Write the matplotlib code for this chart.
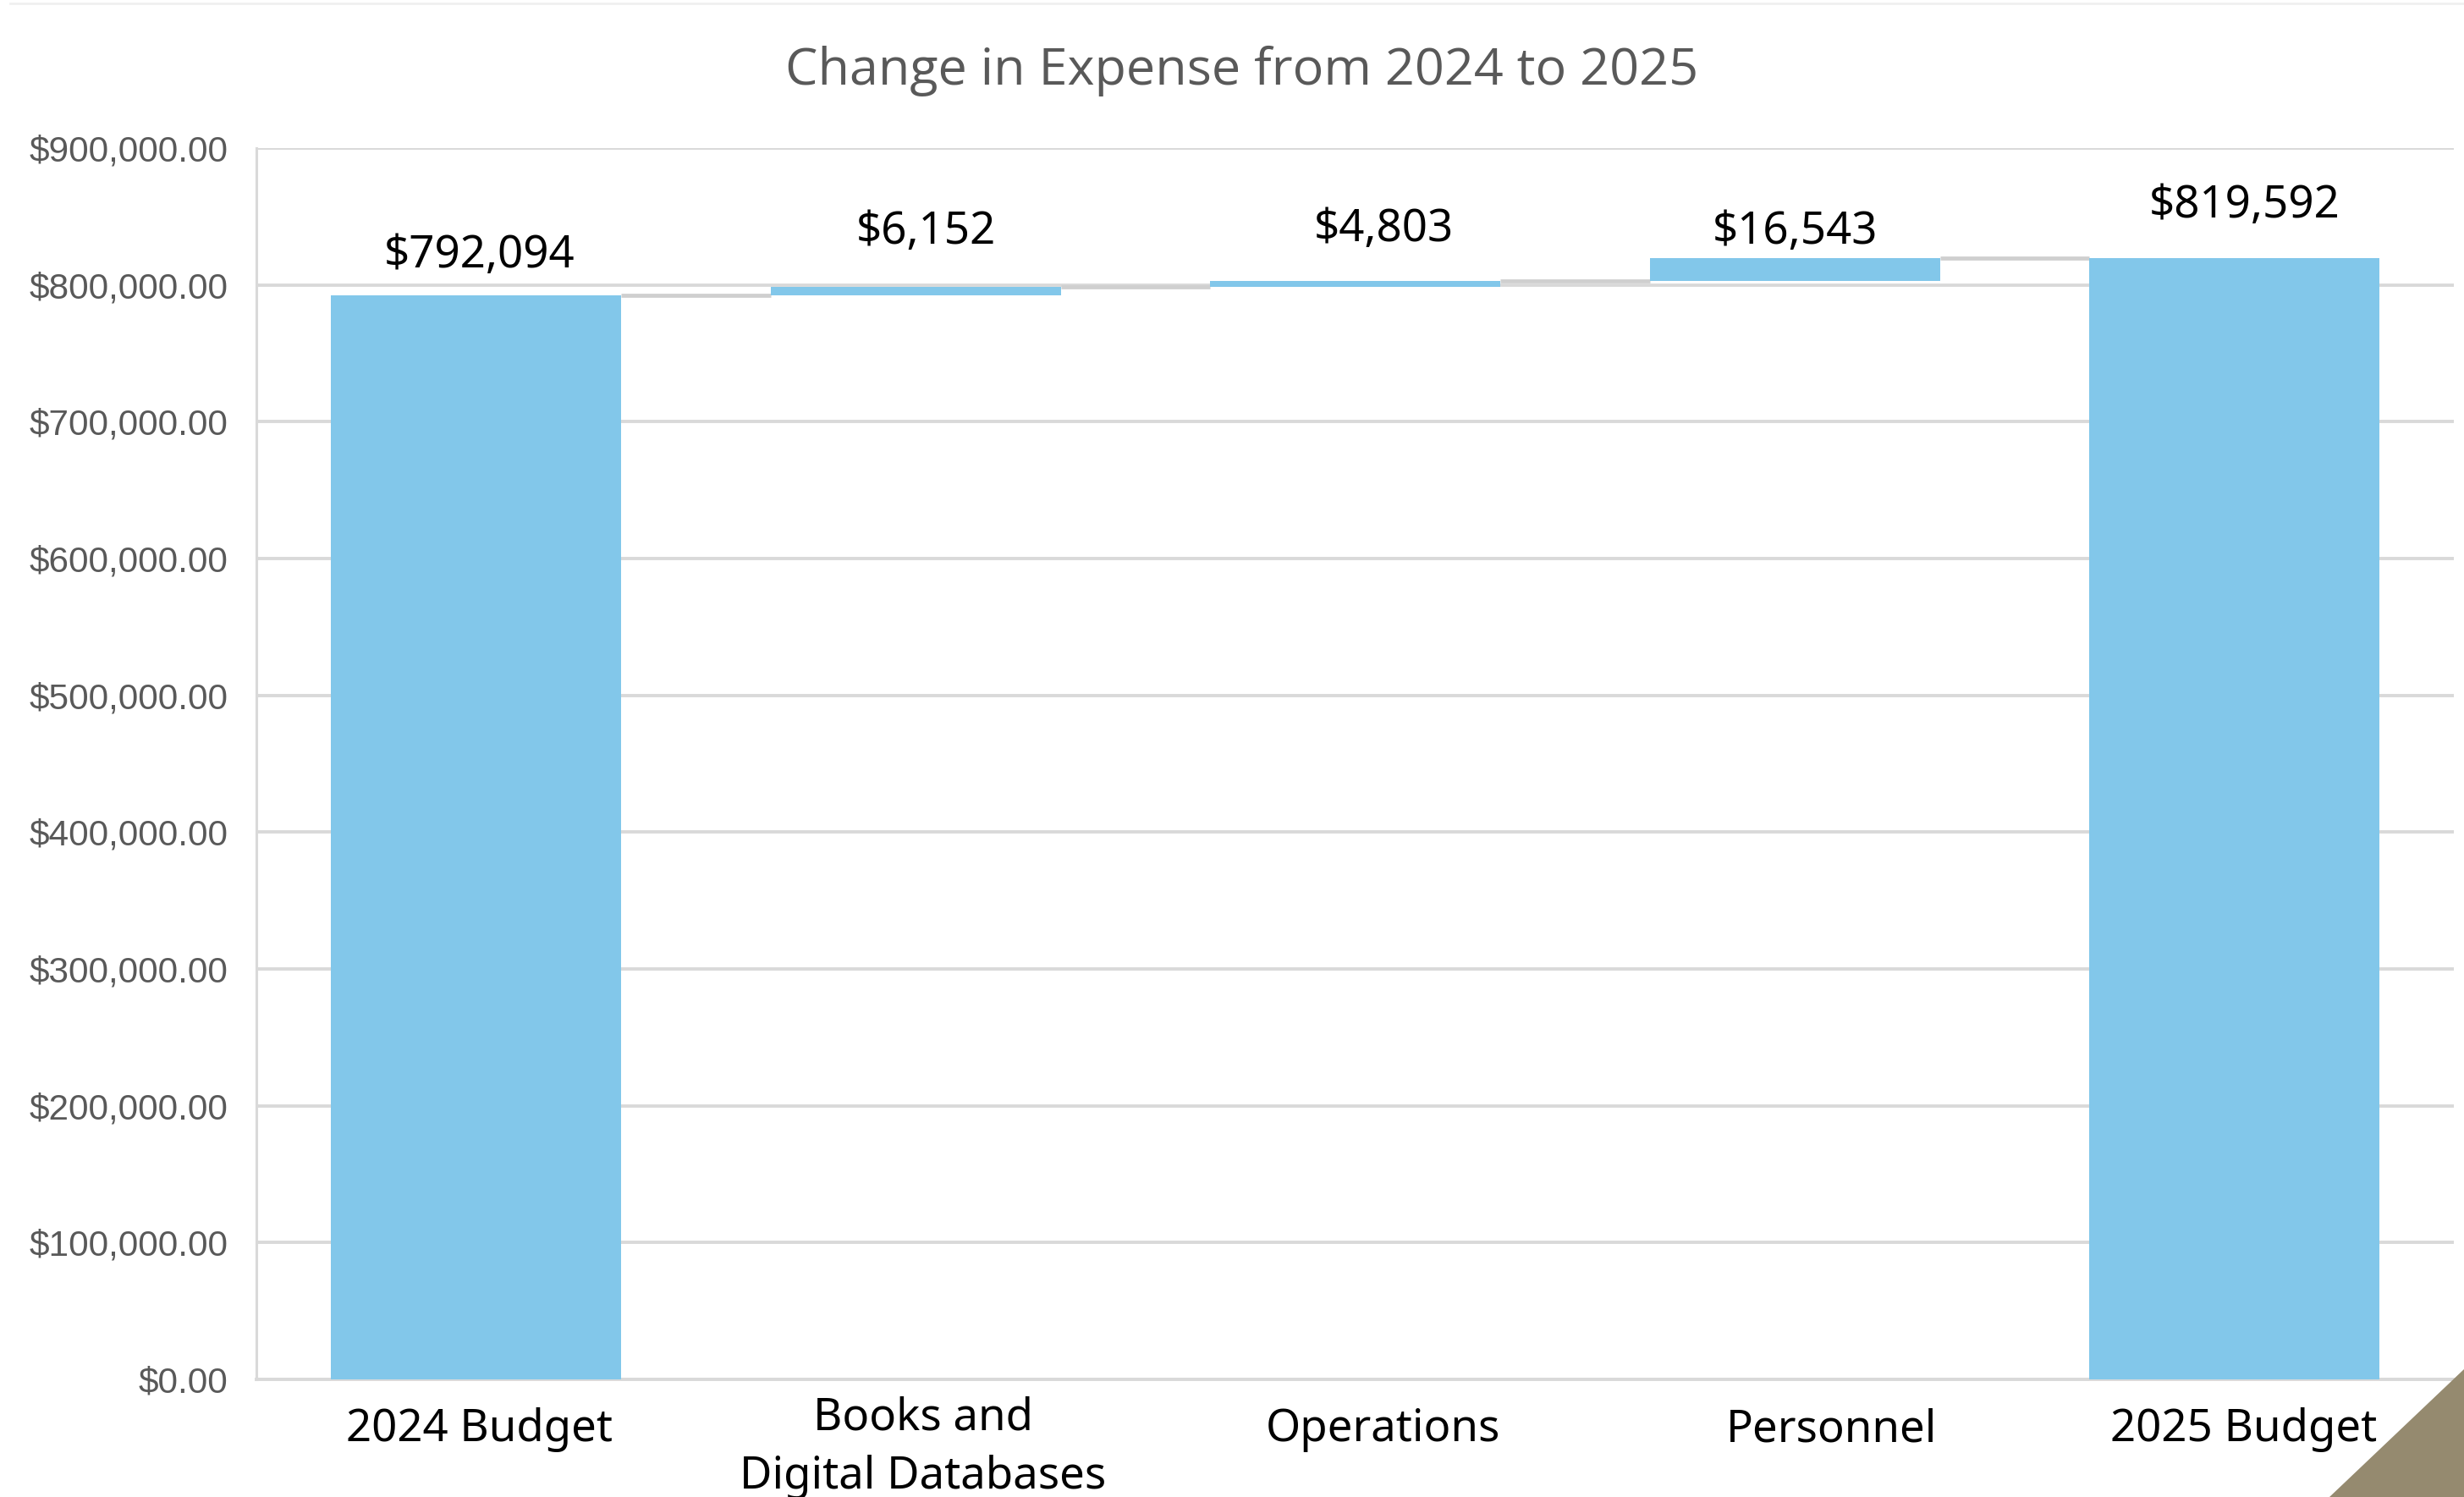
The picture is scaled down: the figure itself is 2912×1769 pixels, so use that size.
import matplotlib
matplotlib.use('Agg')
import matplotlib.pyplot as plt
import matplotlib.transforms as mtransforms
from matplotlib.patches import Polygon
from matplotlib.ticker import FuncFormatter, MultipleLocator
import numpy as np

# chart data
categories = ['2024 Budget', 'Books and\nDigital Databases', 'Operations',
              'Personnel', '2025 Budget']
values = [792094, 6152, 4803, 16543, 819592]
is_total = [True, False, False, False, True]
label_texts = ['$792,094', '$6,152', '$4,803', '$16,543', '$819,592']

bar_color = '#82c7ea'
grid_color = '#d9d9d9'
conn_color = '#cfcfcf'

# waterfall bottoms / tops
bottoms = []
tops = []
running = 0
for v, tot in zip(values, is_total):
    if tot:
        bottoms.append(0)
        tops.append(v)
        running = v
    else:
        bottoms.append(running)
        running += v
        tops.append(running)
heights = np.array(tops) - np.array(bottoms)

fig = plt.figure(figsize=(29.12, 17.69), dpi=100, facecolor='white')
ax = fig.add_axes([0.104, 0.0786, 0.892, 0.8225])

x = np.arange(len(categories))
width = 0.66
ax.bar(x, heights, bottom=bottoms, width=width, color=bar_color, zorder=3)

# connector lines between bars
for i in range(len(categories) - 1):
    ax.hlines(tops[i], x[i] + width / 2, x[i + 1] - width / 2,
              color=conn_color, lw=3.4, zorder=2)

# data labels (offsets in points from bar top centre)
label_dx = [3, 9, 24, 0, 9]
label_dy = [34, 47, 43, 22, 44]
for i, txt in enumerate(label_texts):
    ax.annotate(txt, (x[i], tops[i]), xytext=(label_dx[i], label_dy[i]),
                textcoords='offset points', ha='center', va='center',
                fontsize=38, family='Noto Sans', color='black')

ax.set_xlim(-0.5, len(categories) - 0.5)
ax.set_ylim(0, 900000)
ax.yaxis.set_major_locator(MultipleLocator(100000))
ax.yaxis.set_major_formatter(FuncFormatter(lambda v, p: '${:,.2f}'.format(v)))
ax.grid(axis='y', color=grid_color, lw=2.8, zorder=0)
ax.set_axisbelow(True)

for s in ['top', 'right']:
    ax.spines[s].set_visible(False)
ax.spines['left'].set_color(grid_color)
ax.spines['left'].set_linewidth(2.2)
ax.spines['bottom'].set_color(grid_color)
ax.spines['bottom'].set_linewidth(2.8)

ax.tick_params(axis='y', length=0, pad=24, labelsize=30.5, labelcolor='#595959')
for lbl in ax.get_yticklabels():
    lbl.set_family('Liberation Sans')

ax.set_xticks(x)
ax.set_xticklabels(categories, fontsize=38, family='Noto Sans', va='center',
                   linespacing=1.42)
ax.tick_params(axis='x', length=0, pad=43)
tick_dx = [0.04, 0.09, 0.33, 0.43, 0.11]
tick_dy = [0.0, -0.21, 0.0, 0.0, 0.0]
for i, lbl in enumerate(ax.get_xticklabels()):
    off = mtransforms.ScaledTranslation(tick_dx[i], tick_dy[i], fig.dpi_scale_trans)
    lbl.set_transform(lbl.get_transform() + off)

fig.text(0.504, 0.9525, 'Change in Expense from 2024 to 2025', ha='center',
         va='center', fontsize=44, family='Open Sans', fontweight='medium',
         color='#595959')

# faint chart border on top
fig.add_artist(plt.Line2D([0.004, 1.0], [0.9975, 0.9975], color='#f0f0f0', lw=2,
                          transform=fig.transFigure))

# decorative corner triangle
tri = Polygon([[1.0, 1 - 1618 / 1769], [1.0, 0.0], [2753 / 2912, 0.0]],
              closed=True, transform=fig.transFigure, color='#958a6f', zorder=10)
fig.add_artist(tri)

fig.savefig('out.png', dpi=100, facecolor='white')
